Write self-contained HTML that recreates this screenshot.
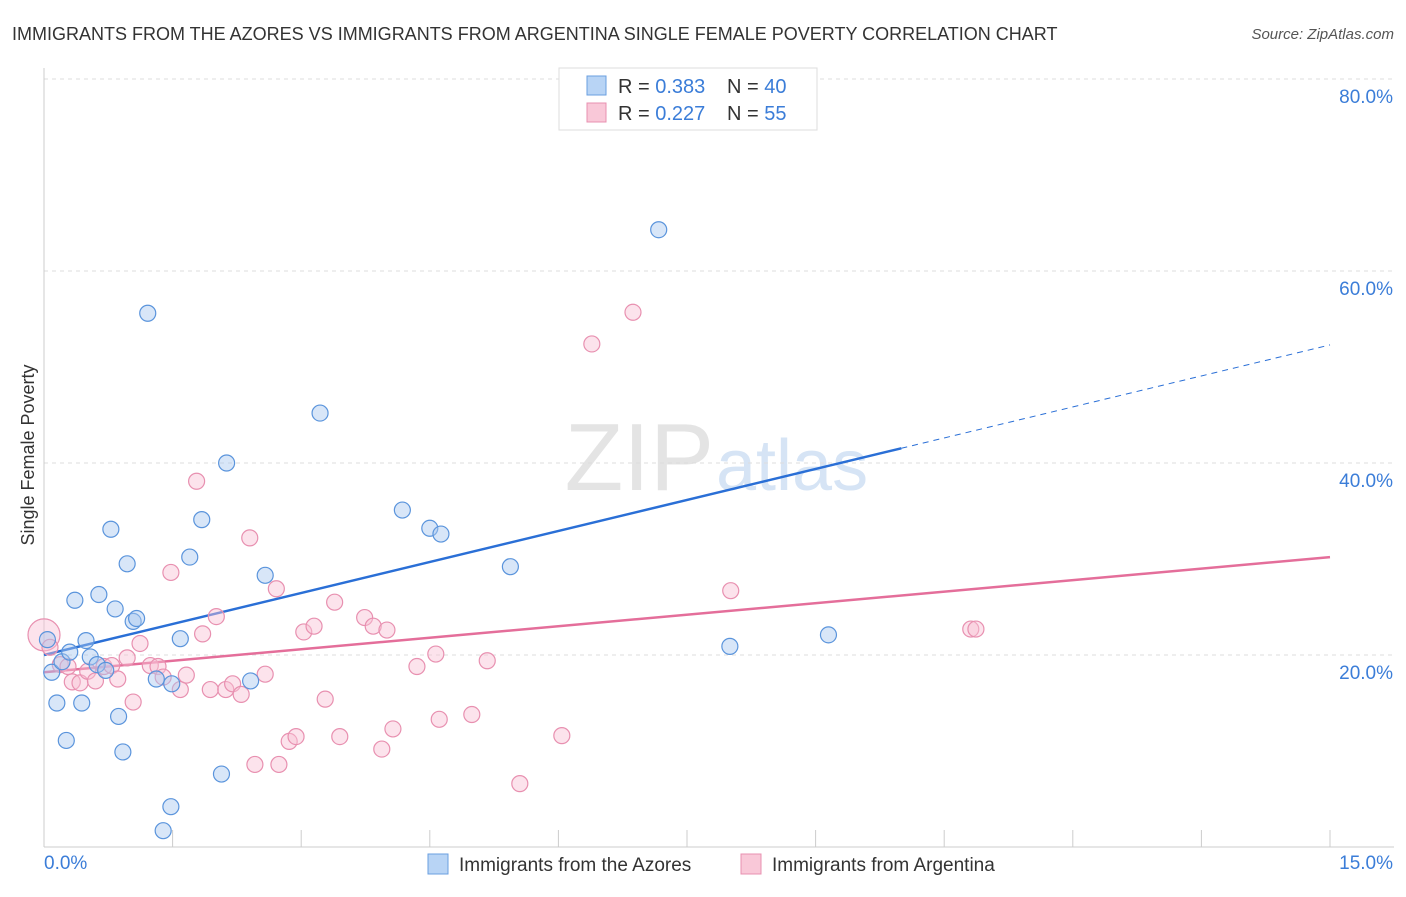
<!DOCTYPE html>
<html><head><meta charset="utf-8"><style>
body{margin:0;background:#fff;font-family:"Liberation Sans",sans-serif;}
svg text{font-family:"Liberation Sans",sans-serif;}
</style></head><body>
<svg id="chart" width="1406" height="892" xmlns="http://www.w3.org/2000/svg">
<text x="12" y="40" font-size="18" fill="#333">IMMIGRANTS FROM THE AZORES VS IMMIGRANTS FROM ARGENTINA SINGLE FEMALE POVERTY CORRELATION CHART</text>
<text x="1394" y="39" font-size="15" fill="#555" text-anchor="end" font-style="italic">Source: ZipAtlas.com</text>
<text x="714" y="490" font-size="96" fill="#e4e4e4" text-anchor="end" font-family="Liberation Serif">ZIP</text>
<text x="716" y="490" font-size="72" fill="#d6e4f5">atlas</text>
<text transform="translate(34,455) rotate(-90)" font-size="18" fill="#333" text-anchor="middle">Single Female Poverty</text>
<g id="grid"></g><g id="axes"></g><g id="lines"></g><g id="pts"></g>
<g>
<rect x="559" y="68" width="258" height="62" fill="#fff" stroke="#ddd"/>
<rect x="587" y="76" width="19" height="19" fill="#b8d4f5" stroke="#6a9fe0"/>
<text x="618" y="93" font-size="20" fill="#333">R = <tspan fill="#3b7dd8">0.383</tspan></text>
<text x="727" y="93" font-size="20" fill="#333">N = <tspan fill="#3b7dd8">40</tspan></text>
<rect x="587" y="103" width="19" height="19" fill="#f9c8d8" stroke="#e890b0"/>
<text x="618" y="120" font-size="20" fill="#333">R = <tspan fill="#3b7dd8">0.227</tspan></text>
<text x="727" y="120" font-size="20" fill="#333">N = <tspan fill="#3b7dd8">55</tspan></text>
</g>
<g>
<rect x="428" y="854" width="20" height="20" fill="#b8d4f5" stroke="#6a9fe0"/>
<text x="459" y="871" font-size="19" fill="#333">Immigrants from the Azores</text>
<rect x="741" y="854" width="20" height="20" fill="#f9c8d8" stroke="#e890b0"/>
<text x="772" y="871" font-size="19" fill="#333">Immigrants from Argentina</text>
</g>
</svg>
<script>
const yTicks=[20,40,60,80];
const yTickLabels=["20.0%","40.0%","60.0%","80.0%"];
const xTickLabels=["0.0%","15.0%"];
const blueX=[0.04,0.09,0.15,0.21,0.26,0.3,0.36,0.44,0.49,0.54,0.62,0.64,0.72,0.78,0.83,0.87,0.92,0.97,1.04,1.08,1.21,1.31,1.39,1.48,1.49,1.59,1.70,1.84,2.07,2.13,2.41,2.58,3.22,4.18,4.50,4.63,5.44,7.17,8.00,9.15];
const blueY=[21.6,18.2,15.0,19.3,11.1,20.3,25.7,15.0,21.5,19.8,19.0,26.3,18.4,33.1,24.8,13.6,9.9,29.5,23.5,23.8,55.6,17.5,1.7,4.2,17.0,21.7,30.2,34.1,7.6,40.0,17.3,28.3,45.2,35.1,33.2,32.6,29.2,64.3,20.9,22.1];
const pinkX=[0.0,0.07,0.19,0.28,0.33,0.42,0.51,0.60,0.70,0.79,0.86,0.97,1.04,1.12,1.24,1.33,1.39,1.48,1.59,1.66,1.78,1.85,1.94,2.01,2.12,2.20,2.30,2.40,2.46,2.58,2.71,2.74,2.86,2.94,3.03,3.15,3.28,3.39,3.45,3.74,3.84,3.94,4.00,4.07,4.35,4.57,4.61,4.99,5.17,5.55,6.04,6.39,6.87,8.01,10.81];
const pinkY=[22.1,20.8,19.0,18.8,17.2,17.1,18.3,17.3,18.8,18.9,17.5,19.7,15.1,21.2,18.9,18.8,17.7,28.6,16.4,17.9,38.1,22.2,16.4,24.0,16.4,17.0,15.9,32.2,8.6,18.0,26.9,8.6,11.0,11.5,22.4,23.0,15.4,25.5,11.5,23.9,23.0,10.2,22.6,12.3,18.8,20.1,13.3,13.8,19.4,6.6,11.6,52.4,55.7,26.7,22.7];
const pinkExtraX=[10.87], pinkExtraY=[22.7];
const blueTrend=[20.0,52.3], pinkTrend=[18.2,30.2];
const X=v=>44+v/15*1286, Y=v=>847-v*9.6;
const NS="http://www.w3.org/2000/svg";
function mk(t,a,p){const e=document.createElementNS(NS,t);for(const k in a)e.setAttribute(k,a[k]);p.appendChild(e);return e;}
const grid=document.getElementById('grid'),axes=document.getElementById('axes'),lines=document.getElementById('lines'),pts=document.getElementById('pts');
mk('line',{x1:44,y1:Y(80),x2:1394,y2:Y(80),stroke:'#ddd','stroke-dasharray':'4,4'},grid);
yTicks.forEach((t,i)=>{
 const l=mk('line',{x1:44,y1:Y(t),x2:1394,y2:Y(t),stroke:'#ddd','stroke-dasharray':'4,4'},grid);
 
 
 const tx=mk('text',{x:1393,y:Y(t)+24,'font-size':19,fill:'#3b7dd8','text-anchor':'end'},axes);
 tx.textContent=yTickLabels[i];
 
 
});
mk('line',{x1:44,y1:68,x2:44,y2:847,stroke:'#ccc'},axes);
mk('line',{x1:44,y1:847,x2:1394,y2:847,stroke:'#ccc'},axes);
for(let i=0;i<=10;i++){const t=mk('line',{x1:X(i*1.5),y1:830,x2:X(i*1.5),y2:847,stroke:'#ccc'},axes);
 
 }
[[0,44,'start'],[15,1393,'end']].forEach((d,i)=>{const t=mk('text',{x:d[1],y:869,'font-size':19,fill:'#3b7dd8','text-anchor':d[2]},axes);t.textContent=xTickLabels[i];
 
 });
const bx=10.0, by=blueTrend[0]+(blueTrend[1]-blueTrend[0])*bx/15;
let l=mk('line',{x1:X(0),y1:Y(blueTrend[0]),x2:X(bx),y2:Y(by),stroke:'#2a6fd6','stroke-width':2.5},lines);


l=mk('line',{x1:X(bx),y1:Y(by),x2:X(15),y2:Y(blueTrend[1]),stroke:'#2a6fd6','stroke-width':1,'stroke-dasharray':'6,5'},lines);


l=mk('line',{x1:X(0),y1:Y(pinkTrend[0]),x2:X(15),y2:Y(pinkTrend[1]),stroke:'#e46e9a','stroke-width':2.5},lines);


function dots(xs,ys,fill,stroke,name,r){xs.forEach((x,i)=>{const c=mk('circle',{cx:X(x),cy:Y(ys[i]),r:(r&&i===0)?r:8,fill:fill,'fill-opacity':0.45,stroke:stroke,'stroke-width':1.2},pts);
 
 });}
dots(pinkX,pinkY,'#f9c0d4','#e890b0','argentina-point',16);
dots(pinkExtraX,pinkExtraY,'#f9c0d4','#e890b0','argentina-point');
dots(blueX,blueY,'#a8c8f0','#5a94dc','azores-point');
</script>
</body></html>
